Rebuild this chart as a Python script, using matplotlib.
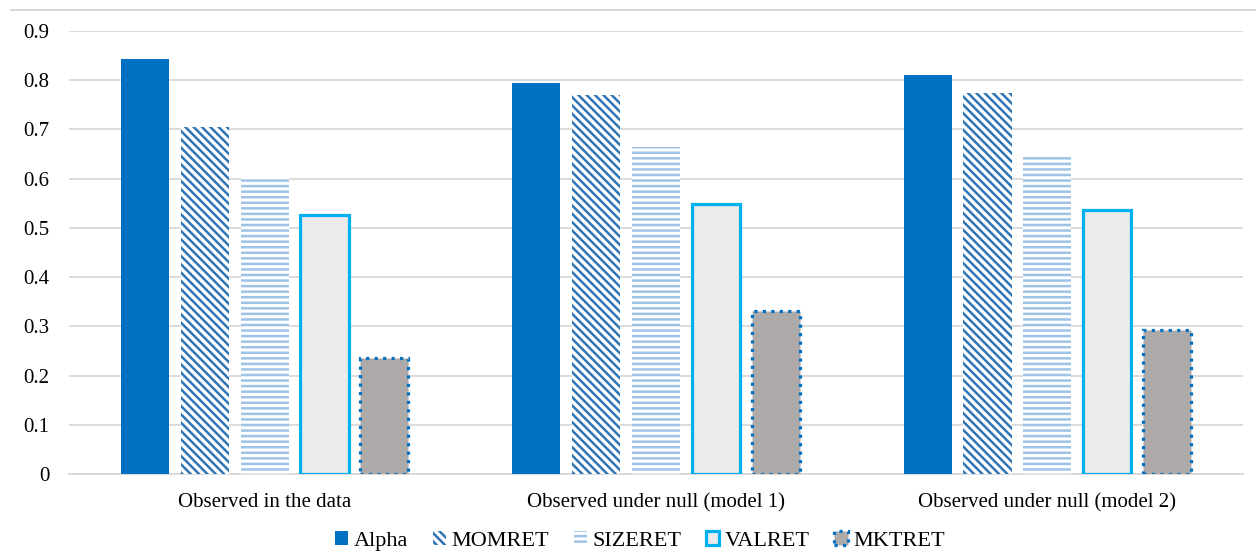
import numpy as np
import matplotlib.pyplot as plt
from matplotlib.lines import Line2D

# Data
groups = ['Observed in the data', 'Observed under null (model 1)', 'Observed under null (model 2)']
series = ['Alpha', 'MOMRET', 'SIZERET', 'VALRET', 'MKTRET']
alpha = [0.843, 0.795, 0.811]
momret = [0.705, 0.770, 0.774]
sizeret = [0.603, 0.664, 0.646]
valret = [0.526, 0.549, 0.537]
mktret = [0.236, 0.332, 0.293]
yticks = [0, 0.1, 0.2, 0.3, 0.4, 0.5, 0.6, 0.7, 0.8, 0.9]

plt.rcParams['font.family'] = ['Liberation Serif', 'DejaVu Serif']
plt.rcParams['hatch.linewidth'] = 1.8

fig = plt.figure(figsize=(12.56, 5.54), dpi=100)
ax = fig.add_axes([69 / 1256, 1 - 474 / 554, 1174 / 1256, 443 / 554])

x = np.arange(len(groups))
w = 0.123
step = 0.153
offsets = (np.arange(5) - 2) * step

styles = [
    dict(color='#0070C0', linewidth=0),
    dict(facecolor='white', edgecolor='#2E75B6', hatch='\\\\\\\\', linewidth=0),
    dict(facecolor='white', edgecolor='#9DC3E6', hatch='---', linewidth=0),
    dict(facecolor='#EBEBEB', edgecolor='#00B0F0', linewidth=2.3),
    dict(facecolor='#AEAAAA', edgecolor='#0070C0', linewidth=2.3, linestyle=':'),
]
values = [alpha, momret, sizeret, valret, mktret]

handles = []
for i, (vals, st) in enumerate(zip(values, styles)):
    bars = ax.bar(x + offsets[i], vals, w, label=series[i], zorder=3, **st)
    handles.append(bars)

ax.set_xlim(-0.5, 2.5)
ax.set_ylim(0, 0.9)
ax.set_yticks(yticks)
ax.set_yticklabels(['0' if t == 0 else f'{t:.1f}' for t in yticks])
ax.set_xticks(x)
ax.set_xticklabels(groups)
ax.tick_params(axis='both', length=0, labelsize=15, colors='black')
ax.tick_params(axis='x', pad=14)
ax.tick_params(axis='y', pad=14)
ax.grid(axis='y', color='#D9D9D9', linewidth=1.3, zorder=0)
for s in ['top', 'right', 'left']:
    ax.spines[s].set_visible(False)
ax.spines['bottom'].set_color('#D9D9D9')
ax.spines['bottom'].set_linewidth(1.3)

# thin frame line at the top of the figure
fig.add_artist(Line2D([11 / 1256, 1], [1 - 10 / 554, 1 - 10 / 554], color='#D0D0D0', linewidth=1.2))

fig.legend(handles=handles, labels=series, loc='center', bbox_to_anchor=(640 / 1256, 1 - 541 / 554),
           ncol=5, frameon=False, fontsize=16, handlelength=0.6, handleheight=0.6,
           handletextpad=0.25, columnspacing=1.1)

fig.savefig('out.png', dpi=100)
